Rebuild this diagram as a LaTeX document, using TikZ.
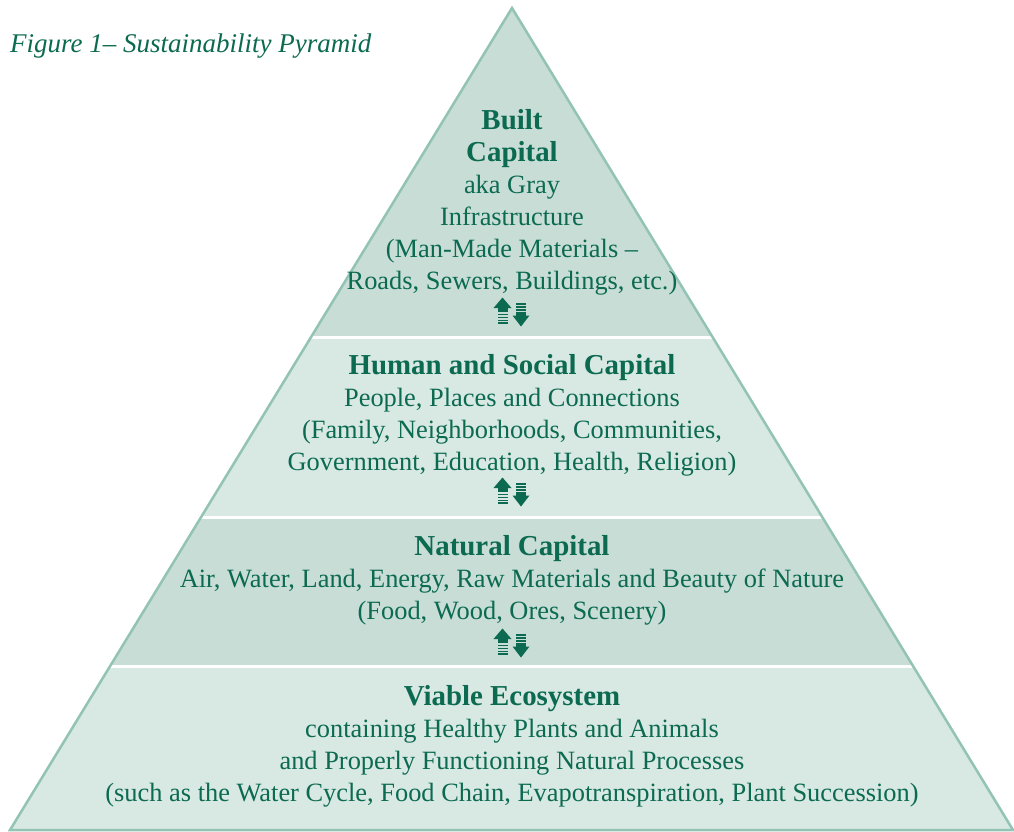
\documentclass[tikz,border=0pt]{standalone}
\usepackage{fontspec}
\setmainfont{Liberation Serif}
\definecolor{txt}{HTML}{0B6A50}
\definecolor{edge}{HTML}{92C3B4}
\definecolor{bandA}{HTML}{C8DDD6}
\definecolor{bandB}{HTML}{D8E8E3}
\newcommand{\hd}[1]{{\fontsize{28.9}{32}\selectfont\bfseries #1}}
\tikzset{
  layertext/.style={text=txt, align=center, inner sep=0pt,
    font=\fontsize{26.4}{32}\selectfont},
  captext/.style={text=txt, inner sep=0pt, anchor=west,
    font=\fontsize{27}{32}\selectfont\itshape},
  sep/.style={white, line width=3pt},
  updown/.pic={
    % up arrow
    \fill[txt] (-18.5,-4) -- (-9.5,-14.5) -- (-0.5,-4) -- cycle;
    \fill[txt] (-14.5,-4.5) rectangle (-4.5,0);
    \foreach \yy in {1.5,4.5,7.5,10.3}
      \fill[txt] (-14.5,\yy) rectangle (-4.5,\yy+1.7);
    % down arrow
    \foreach \yy in {-9,-6,-3}
      \fill[txt] (4,\yy) rectangle (14,\yy+1.7);
    \fill[txt] (4,-0.5) rectangle (14,4);
    \fill[txt] (0.5,3.5) -- (9,14.5) -- (17.5,3.5) -- cycle;
  }
}
\begin{document}
\begin{tikzpicture}[x=1pt,y=-1pt]
\useasboundingbox (0,0) rectangle (1014,831);
\coordinate (apex) at (512,8);
\coordinate (bl) at (10,830);
\coordinate (br) at (1013,830);
\begin{scope}
  \clip (apex) -- (bl) -- (br) -- cycle;
  \fill[bandA] (0,0) rectangle (1014,337);
  \fill[bandB] (0,337) rectangle (1014,517);
  \fill[bandA] (0,517) rectangle (1014,666);
  \fill[bandB] (0,666) rectangle (1014,831);
  \draw[sep] (0,337) -- (1014,337);
  \draw[sep] (0,517) -- (1014,517);
  \draw[sep] (0,666) -- (1014,666);
\end{scope}
\draw[edge, line width=2.5pt] (apex) -- (bl) -- (br) -- cycle;

\node[captext] (cap) at (10,46) {Figure 1– Sustainability Pyramid};

\node[layertext] (built) at (512,202.5) {\hd{Built}\\ \hd{Capital}\\ aka Gray\\ Infrastructure\\ (Man-Made Materials –\\ Roads, Sewers, Buildings, etc.)};
\pic at (512,312) {updown};

\node[layertext] (human) at (512,415.5) {\hd{Human and Social Capital}\\ People, Places and Connections\\ (Family, Neighborhoods, Communities,\\ Government, Education, Health, Religion)};
\pic at (512,492) {updown};

\node[layertext] (natural) at (512,580) {\hd{Natural Capital}\\ Air, Water, Land, Energy, Raw Materials and Beauty of Nature\\ (Food, Wood, Ores, Scenery)};
\pic at (512,643) {updown};

\node[layertext] (viable) at (512,746.5) {\hd{Viable Ecosystem}\\ containing Healthy Plants and Animals\\ and Properly Functioning Natural Processes\\ (such as the Water Cycle, Food Chain, Evapotranspiration, Plant Succession)};
\end{tikzpicture}
\end{document}
